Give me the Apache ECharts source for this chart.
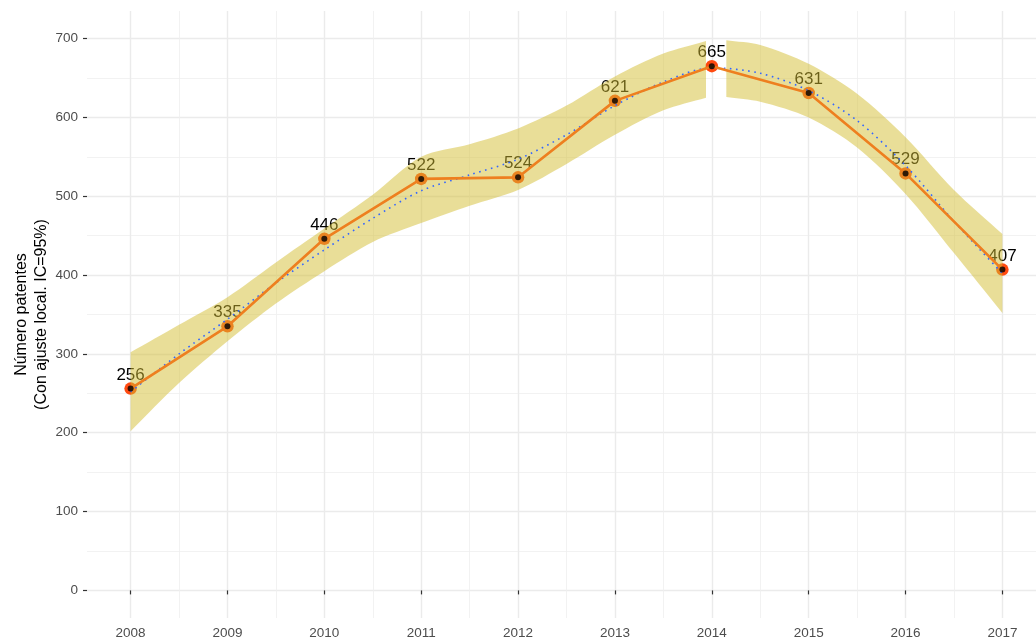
<!DOCTYPE html>
<html>
<head>
<meta charset="utf-8">
<script src="https://cdn.jsdelivr.net/npm/echarts@6/dist/echarts.min.js"></script>
<style>
html, body { margin: 0; padding: 0; background: #fff; }
#main { width: 1036px; height: 638px; }
</style>
</head>
<body>
<div id="main"></div>
<script>
// observed counts
const years = [2008, 2009, 2010, 2011, 2012, 2013, 2014, 2015, 2016, 2017]
const patents = [256, 335, 446, 522, 524, 621, 665, 631, 529, 407]

// loess fit (blue dotted)
const fitX = [2008, 2008.5, 2009, 2009.5, 2010, 2010.5, 2011, 2011.5, 2012, 2012.5, 2013, 2013.5, 2014, 2014.5, 2015, 2015.5, 2016, 2016.5, 2017]
const fitY = [252, 300, 344, 390, 432, 472, 507, 527, 547, 578, 615, 645, 663, 656, 634, 596, 539, 468, 402]

// 95% band, two pieces (gap around 2014)
const bandX1 = [2008, 2008.5, 2009, 2009.5, 2010, 2010.5, 2011, 2011.5, 2012, 2012.5, 2013, 2013.5, 2013.94]
const bandLo1 = [202, 263, 316, 364, 405, 442, 466, 488, 508, 541, 578, 609, 625]
const bandHi1 = [302, 337, 372, 416, 459, 502, 550, 566, 586, 615, 652, 681, 697]
const bandX2 = [2014.15, 2014.5, 2015, 2015.5, 2016, 2016.5, 2017]
const bandLo2 = [626, 620, 600, 562, 503, 428, 352]
const bandHi2 = [698, 692, 668, 630, 575, 508, 452]

const yTicks = [0, 100, 200, 300, 400, 500, 600, 700]
const yMinor = [50, 150, 250, 350, 450, 550, 650]
const xMinor = [2008.5, 2009.5, 2010.5, 2011.5, 2012.5, 2013.5, 2014.5, 2015.5, 2016.5]

const bands = [
    { x: bandX1, lo: bandLo1, hi: bandHi1 },
    { x: bandX2, lo: bandLo2, hi: bandHi2 }
]

var chartDom = document.getElementById('main');
var myChart = echarts.init(chartDom);

const txt = '#4D4D4D'
const tickStyle = { color: '#333333', width: 1.2 }
const font = 'Liberation Sans, Arial, sans-serif'
const bandFill = 'rgba(211,189,50,0.5)'

const option = {
    animation: false,
    textStyle: { fontFamily: font },
    grid: {
        left: 87,
        top: 11,
        width: 959,
        height: 607,
        containLabel: false,
        outerBoundsMode: 'none'
    },
    xAxis: [{
        type: 'value',
        min: 2007.55,
        max: 2017.45,
        axisLine: { show: false },
        axisTick: { show: true, length: 4, lineStyle: tickStyle, customValues: years },
        axisLabel: { customValues: years, color: txt, fontSize: 13.5, margin: 8, formatter: v => String(v) },
        splitLine: { show: true, lineStyle: { color: '#EBEBEB', width: 1.4 } }
    }, {
        type: 'value',
        min: 2007.55,
        max: 2017.45,
        position: 'bottom',
        axisLine: { show: false },
        axisTick: { show: false, customValues: xMinor },
        axisLabel: { show: false },
        splitLine: { show: true, lineStyle: { color: '#EFEFEF', width: 0.8 } }
    }],
    yAxis: [{
        type: 'value',
        min: -35,
        max: 735,
        name: 'Número patentes\n(Con ajuste local. IC=95%)',
        nameLocation: 'middle',
        nameGap: 35,
        nameMoveOverlap: false,
        nameRotate: 90,
        nameTextStyle: { color: '#000', fontSize: 16, lineHeight: 20, fontFamily: font },
        axisLine: { show: false },
        axisTick: { show: true, length: 4, lineStyle: tickStyle, customValues: yTicks },
        axisLabel: { customValues: yTicks, color: txt, fontSize: 13.5, margin: 9 },
        splitLine: { show: true, lineStyle: { color: '#EBEBEB', width: 1.4 } }
    }, {
        type: 'value',
        min: -35,
        max: 735,
        position: 'left',
        axisLine: { show: false },
        axisTick: { show: false, customValues: yMinor },
        axisLabel: { show: false },
        splitLine: { show: true, lineStyle: { color: '#EFEFEF', width: 0.8 } }
    }],
    series: [
        {
            // big points + labels, drawn under the band
            name: 'puntos',
            type: 'scatter',
            z: 2,
            symbolSize: 12.5,
            data: years.map((y, i) => [y, patents[i]]),
            itemStyle: { color: '#FF4A10', opacity: 1 },
            label: {
                show: true,
                position: 'top',
                distance: -1,
                color: '#000',
                fontSize: 17,
                fontFamily: font,
                formatter: p => p.value[1]
            }
        },
        {
            name: 'banda',
            type: 'custom',
            z: 3,
            silent: true,
            data: bands.map((b, i) => [i]),
            renderItem: function (params, api) {
                const b = bands[api.value(0)]
                const n = b.x.length
                const pts = []
                // corners doubled so the smoothing keeps the ends straight
                pts.push(api.coord([b.x[0], b.hi[0]]))
                for (let i = 0; i < n; i++) pts.push(api.coord([b.x[i], b.hi[i]]))
                pts.push(api.coord([b.x[n - 1], b.hi[n - 1]]))
                pts.push(api.coord([b.x[n - 1], b.lo[n - 1]]))
                for (let i = n - 1; i >= 0; i--) pts.push(api.coord([b.x[i], b.lo[i]]))
                pts.push(api.coord([b.x[0], b.lo[0]]))
                return {
                    type: 'polygon',
                    shape: { points: pts, smooth: 0.3 },
                    style: { fill: bandFill }
                }
            }
        },
        {
            name: 'ajuste',
            type: 'line',
            z: 4,
            smooth: 0.3,
            showSymbol: false,
            data: fitX.map((x, i) => [x, fitY[i]]),
            lineStyle: { color: '#3366FF', width: 1.6, type: [1.6, 4.5] }
        },
        {
            name: 'linea',
            type: 'line',
            z: 5,
            showSymbol: false,
            data: years.map((y, i) => [y, patents[i]]),
            lineStyle: { color: '#EE7F1F', width: 2.6 }
        },
        {
            name: 'centro',
            type: 'scatter',
            z: 6,
            symbolSize: 6,
            data: years.map((y, i) => [y, patents[i]]),
            itemStyle: { color: '#000' }
        }
    ]
};

option && myChart.setOption(option);
</script>
</body>
</html>
